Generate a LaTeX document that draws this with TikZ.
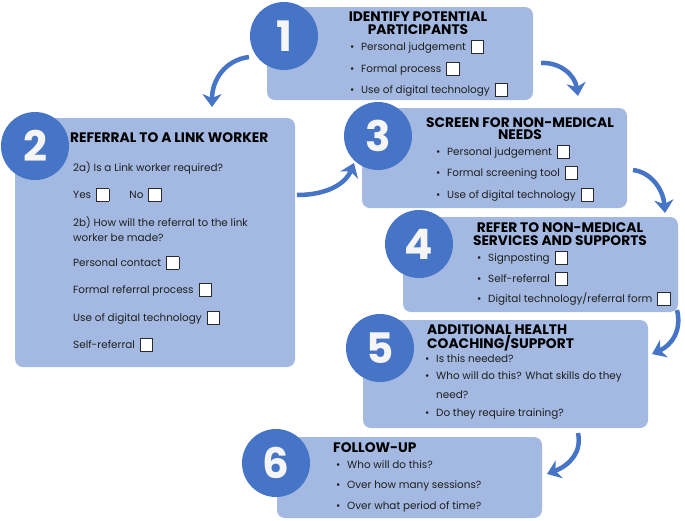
\documentclass[tikz,border=0pt]{standalone}
\usepackage{fontspec}
\setmainfont{Poppins}
\usepackage{xcolor}
\usepackage{tikz}
\usetikzlibrary{arrows.meta}

\definecolor{panelblue}{HTML}{A3B9E1}
\definecolor{stepblue}{HTML}{4674C6}
\definecolor{inkgray}{HTML}{1E1E1E}
\definecolor{boxedge}{HTML}{2A2A2A}

% empty square to tick
\newcommand{\tickbox}{\hspace{5pt}\raisebox{-2.5pt}{\setlength{\fboxsep}{0pt}\setlength{\fboxrule}{0.9pt}\fcolorbox{boxedge}{white}{\makebox[11.5pt]{\rule{0pt}{11.5pt}}}}}
\newcommand{\bul}{\makebox[11pt][l]{\textbullet}}

\begin{document}
\begin{tikzpicture}[x=1pt,y=-1pt,
  panel/.style={fill=panelblue,draw=none,rounded corners=8pt,inner sep=0pt},
  stepnum/.style={circle,fill=stepblue,minimum size=68pt,inner sep=0pt,
    text=white!96!black,font=\fontsize{42}{42}\selectfont\bfseries},
  title/.style={font=\fontsize{13.8}{12.5}\selectfont\bfseries,text=black,inner sep=0pt},
  item/.style={anchor=west,font=\fontsize{10.4}{15}\selectfont,text=inkgray,inner sep=0pt},
  flow/.style={stepblue,line width=4.5pt,-{Stealth[length=13pt,width=19pt,inset=4pt]}}]
\useasboundingbox (0,0) rectangle (685,520);

% panels
\node[panel,minimum width=266,minimum height=93] (box1) at (400,53.5) {};
\node[panel,minimum width=280,minimum height=249] (box2) at (155,242.5) {};
\node[panel,minimum width=265,minimum height=100] (box3) at (494.5,158) {};
\node[panel,minimum width=275,minimum height=95] (box4) at (540.5,264.5) {};
\node[panel,minimum width=285,minimum height=108] (box5) at (505.5,374) {};
\node[panel,minimum width=265,minimum height=81] (box6) at (409.5,477.5) {};

% numbers
\node[stepnum] (n1) at (284,36) {1};
\node[stepnum] (n2) at (35,146) {2};
\node[stepnum] (n3) at (378,136) {3};
\node[stepnum] (n4) at (419,244) {4};
\node[stepnum] (n5) at (380,348) {5};
\node[stepnum] (n6) at (276,463) {6};

% step 1
\node[title,align=center] (h1) at (418,23) {IDENTIFY POTENTIAL\\PARTICIPANTS};
\node[item] (i11) at (350,47) {\bul Personal judgement\tickbox};
\node[item] (i12) at (350,69) {\bul Formal process\tickbox};
\node[item] (i13) at (350,90) {\bul Use of digital technology\tickbox};

% step 2
\node[title,anchor=west] (h2) at (70,138) {REFERRAL TO A LINK WORKER};
\node[item] (i21) at (73,168) {2a) Is a Link worker required?};
\node[item] (i22) at (73,195) {Yes\tickbox\hspace{20pt}No\tickbox};
\node[item,align=left] (i23) at (73,229.5) {2b) How will the referral to the link\\worker be made?};
\node[item] (i24) at (73,263) {Personal contact\tickbox};
\node[item] (i25) at (73,290) {Formal referral process\tickbox};
\node[item] (i26) at (73,318) {Use of digital technology\tickbox};
\node[item] (i27) at (73,345) {Self-referral\tickbox};

% step 3
\node[title,align=center] (h3) at (520,128.5) {SCREEN FOR NON-MEDICAL\\NEEDS};
\node[item] (i31) at (436,152) {\bul Personal judgement\tickbox};
\node[item] (i32) at (436,173) {\bul Formal screening tool\tickbox};
\node[item] (i33) at (436,195) {\bul Use of digital technology\tickbox};

% step 4
\node[title,align=center] (h4) at (560,234) {REFER TO NON-MEDICAL\\SERVICES AND SUPPORTS};
\node[item] (i41) at (477,258) {\bul Signposting\tickbox};
\node[item] (i42) at (477,279) {\bul Self-referral\tickbox};
\node[item] (i43) at (477,299) {\bul Digital technology/referral form\tickbox};

% step 5
\node[title,align=left,anchor=west] (h5) at (427,338) {ADDITIONAL HEALTH\\COACHING/SUPPORT};
\node[item] (i51) at (425,359) {\bul Is this needed?};
\node[item] (i52) at (425,377) {\bul Who will do this? What skills do they};
\node[item] (i53) at (436,395) {need?};
\node[item] (i54) at (425,414) {\bul Do they require training?};

% step 6
\node[title,anchor=west] (h6) at (333,448) {FOLLOW-UP};
\node[item] (i61) at (336,465) {\bul Who will do this?};
\node[item] (i62) at (336,486) {\bul Over how many sessions?};
\node[item] (i63) at (336,507) {\bul Over what period of time?};

% arrows
\coordinate (a1s) at (249,57);   \coordinate (a1e) at (212,107);
\coordinate (a2s) at (541,63);   \coordinate (a2e) at (578,96);
\coordinate (a3s) at (297,195);  \coordinate (a3e) at (354,163);
\coordinate (a4s) at (633,170);  \coordinate (a4e) at (665,213);
\coordinate (a5s) at (677,310);  \coordinate (a5e) at (652,354);
\coordinate (a6s) at (578,433);  \coordinate (a6e) at (547,474);
\draw[flow] (a1s) .. controls (225,60) and (212,80) .. (a1e);
\draw[flow] (a2s) .. controls (560,62) and (575,75) .. (a2e);
\draw[flow] (a3s) .. controls (325,195) and (345,185) .. (a3e);
\draw[flow] (a4s) .. controls (650,172) and (663,188) .. (a4e);
\draw[flow] (a5s) .. controls (682,330) and (672,345) .. (a5e);
\draw[flow] (a6s) .. controls (582,452) and (570,465) .. (a6e);
\end{tikzpicture}
\end{document}
